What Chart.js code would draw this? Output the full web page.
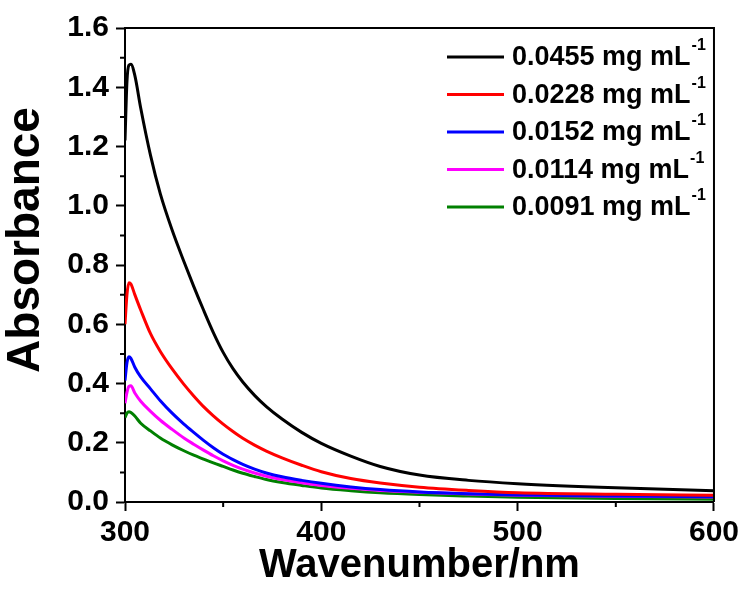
<!DOCTYPE html>
<html>
<head>
<meta charset="utf-8">
<script src="https://cdn.jsdelivr.net/npm/chart.js@4.4.1/dist/chart.umd.min.js"></script>
<style>
    html, body { margin: 0; padding: 0; background: #fff; }
    #wrap { width: 743px; height: 590px; }
</style>
</head>
<body>
<div id="wrap"><canvas id="absChart"></canvas></div>
<script>
"use strict";

// Довжини хвиль (нм), спільні для всіх кривих
const wavelengths = [300, 301, 302, 303, 305, 308, 313, 318, 324, 330, 335, 340, 345, 350, 355, 360, 366, 372, 380, 390, 400, 415, 430, 450, 475, 500, 550, 600];

// Поглинання для кожної концентрації
const abs0455 = [1.22, 1.42, 1.475, 1.478, 1.44, 1.33, 1.17, 1.04, 0.918, 0.812, 0.728, 0.648, 0.572, 0.505, 0.45, 0.405, 0.36, 0.322, 0.28, 0.235, 0.198, 0.155, 0.12, 0.091, 0.073, 0.062, 0.048, 0.038];
const abs0228 = [0.60, 0.70, 0.74, 0.736, 0.70, 0.648, 0.568, 0.508, 0.449, 0.397, 0.358, 0.322, 0.291, 0.263, 0.238, 0.215, 0.192, 0.172, 0.149, 0.124, 0.102, 0.079, 0.064, 0.050, 0.039, 0.031, 0.026, 0.023];
const abs0152 = [0.41, 0.47, 0.49, 0.485, 0.455, 0.422, 0.382, 0.342, 0.30, 0.263, 0.235, 0.208, 0.183, 0.161, 0.143, 0.127, 0.111, 0.098, 0.085, 0.073, 0.063, 0.051, 0.042, 0.034, 0.028, 0.024, 0.020, 0.018];
const abs0114 = [0.333, 0.37, 0.39, 0.392, 0.368, 0.34, 0.306, 0.276, 0.245, 0.216, 0.195, 0.175, 0.156, 0.139, 0.124, 0.111, 0.098, 0.087, 0.076, 0.065, 0.056, 0.046, 0.039, 0.033, 0.027, 0.023, 0.019, 0.017];
const abs0091 = [0.285, 0.30, 0.305, 0.302, 0.29, 0.266, 0.24, 0.216, 0.193, 0.173, 0.158, 0.145, 0.132, 0.12, 0.108, 0.097, 0.086, 0.076, 0.066, 0.056, 0.047, 0.038, 0.031, 0.025, 0.020, 0.016, 0.012, 0.009];

const concentrations = ['0.0455', '0.0228', '0.0152', '0.0114', '0.0091'];
const seriesValues = [abs0455, abs0228, abs0152, abs0114, abs0091];
const seriesColors = ['#000000', '#ff0000', '#0000ff', '#ff00ff', '#008000'];

const xTicks = [300, 400, 500, 600];
const yTicks = [0.0, 0.2, 0.4, 0.6, 0.8, 1.0, 1.2, 1.4, 1.6];

const FONT = '"Liberation Sans", Arial, sans-serif';

function toPoints(values) {
    return wavelengths.map((w, i) => ({ x: w, y: values[i] }));
}

// Рамка, дрібні поділки, підписи осей і легенда
const decorPlugin = {
    id: 'decor',
    afterDraw(chart) {
        const ctx = chart.ctx;
        const area = chart.chartArea;
        const xs = chart.scales.x;
        const ys = chart.scales.y;
        ctx.save();

        // верхня і права сторони рамки
        ctx.strokeStyle = '#000';
        ctx.lineWidth = 2;
        ctx.beginPath();
        ctx.moveTo(area.left, area.top);
        ctx.lineTo(area.right, area.top);
        ctx.lineTo(area.right, area.bottom);
        ctx.stroke();

        // дрібні поділки
        ctx.beginPath();
        for (let v = 350; v < 600; v += 100) {
            const px = xs.getPixelForValue(v);
            ctx.moveTo(px, area.bottom);
            ctx.lineTo(px, area.bottom + 5);
        }
        for (let v = 0.1; v < 1.6; v += 0.2) {
            const py = ys.getPixelForValue(v);
            ctx.moveTo(area.left, py);
            ctx.lineTo(area.left - 5, py);
        }
        ctx.stroke();

        // підписи осей
        ctx.fillStyle = '#000';
        ctx.textAlign = 'center';
        ctx.textBaseline = 'middle';
        ctx.font = 'bold 40px ' + FONT;
        ctx.fillText('Wavenumber/nm', (area.left + area.right) / 2, 566);
        ctx.save();
        ctx.translate(26, 240);
        ctx.rotate(-Math.PI / 2);
        ctx.font = 'bold 46px ' + FONT;
        ctx.fillText('Absorbance', 0, 0);
        ctx.restore();

        // легенда
        ctx.textAlign = 'left';
        chart.data.datasets.forEach((ds, i) => {
            const y = 57 + i * 37.5;
            ctx.strokeStyle = ds.borderColor;
            ctx.lineWidth = 3;
            ctx.beginPath();
            ctx.moveTo(447, y);
            ctx.lineTo(504, y);
            ctx.stroke();
            ctx.font = 'bold 27px ' + FONT;
            ctx.textBaseline = 'middle';
            const txt = ds.label + ' mg mL';
            ctx.fillText(txt, 512, y + 1);
            const w = ctx.measureText(txt).width;
            ctx.font = 'bold 16px ' + FONT;
            ctx.fillText('-1', 512 + w + 1, y - 11);
        });

        ctx.restore();
    }
};

new Chart(document.getElementById('absChart'), {
    type: 'line',
    data: {
        datasets: concentrations.map((c, i) => ({
            label: c,
            data: toPoints(seriesValues[i]),
            borderColor: seriesColors[i],
            borderWidth: 3,
            pointRadius: 0,
            fill: false,
            cubicInterpolationMode: 'monotone'
        }))
    },
    options: {
        responsive: true,
        maintainAspectRatio: false,
        animation: false,
        events: [],
        layout: { padding: { top: 28, right: 28, left: 0, bottom: 0 } },
        plugins: {
            legend: { display: false },
            tooltip: { enabled: false }
        },
        scales: {
            x: {
                type: 'linear',
                min: 300,
                max: 600,
                afterBuildTicks: s => { s.ticks = xTicks.map(v => ({ value: v })); },
                afterFit: s => { s.height = 88; },
                border: { color: '#000', width: 2 },
                grid: { drawOnChartArea: false, tickLength: 9, tickColor: '#000', tickWidth: 2 },
                ticks: {
                    color: '#000',
                    padding: 4,
                    font: { family: FONT, size: 30, weight: 'bold' },
                    maxRotation: 0
                }
            },
            y: {
                min: 0,
                max: 1.6,
                afterBuildTicks: s => { s.ticks = yTicks.map(v => ({ value: v })); },
                afterFit: s => { s.width = 125; },
                border: { color: '#000', width: 2 },
                grid: { drawOnChartArea: false, tickLength: 9, tickColor: '#000', tickWidth: 2 },
                ticks: {
                    color: '#000',
                    padding: 7,
                    font: { family: FONT, size: 30, weight: 'bold' },
                    callback: v => v.toFixed(1)
                }
            }
        }
    },
    plugins: [decorPlugin]
});
</script>
</body>
</html>
